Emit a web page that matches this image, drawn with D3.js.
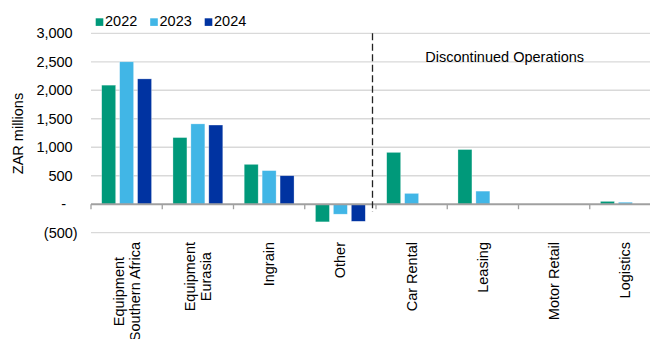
<!DOCTYPE html>
<html><head><meta charset="utf-8">
<script src="https://cdn.jsdelivr.net/npm/d3@7"></script>
<style>body{margin:0;background:#fff}svg{display:block}text{font-family:"Liberation Sans",Arial,sans-serif;fill:#000}</style>
</head><body><svg id="c" width="650" height="339"></svg>
<script>
const categories = [["Equipment","Southern Africa"],["Equipment","Eurasia"],["Ingrain"],["Other"],["Car Rental"],["Leasing"],["Motor Retail"],["Logistics"]];
const seriesNames = ["2022","2023","2024"];
const v2022 = [2090,1170,700,-310,910,960,0,50];
const v2023 = [2500,1410,590,-175,190,230,0,35];
const v2024 = [2200,1390,500,-300,null,null,null,null];
const yTicks = [-500,0,500,1000,1500,2000,2500,3000];
const dividerAfter = 4;
const sectionLabel = "Discontinued Operations";
const yTitle = "ZAR millions";
const colors = ["#00997a","#41b6e6","#0033a1"];

(function(){
const svg = d3.select("#c");
const pL = 91, pR = 661, pT = 33.3, pB = 232.7;
const fs = "14.5px";
const x = d3.scaleBand().domain(d3.range(categories.length)).range([pL,pR]).padding(0);
const y = d3.scaleLinear().domain([-500,3000]).range([pB, pT]);
const series = [v2022,v2023,v2024];
const inner = d3.scaleBand().domain(d3.range(3)).range([10.7, x.bandwidth()-10.7]).paddingInner(0.22);

// gridlines
svg.append("g").selectAll("line").data(yTicks.filter(d=>d!==0)).join("line")
  .attr("x1",pL).attr("x2",650).attr("y1",d=>y(d)).attr("y2",d=>y(d))
  .attr("stroke","#d9d9d9").attr("stroke-width",1.3);

// bars
series.forEach((s,si)=>{
  svg.append("g").selectAll("rect").data(s.map((v,i)=>({v,i})).filter(d=>d.v!==null && d.v!==0)).join("rect")
    .attr("x",d=>x(d.i)+inner(si)).attr("width",inner.bandwidth())
    .attr("y",d=>y(Math.max(0,d.v))).attr("height",d=>Math.abs(y(d.v)-y(0)))
    .attr("fill",colors[si]).attr("stroke","#fff").attr("stroke-opacity",0.5).attr("stroke-width",0.6);
});

// zero axis
const y0 = y(0);
svg.append("line").attr("x1",pL).attr("x2",650).attr("y1",y0).attr("y2",y0).attr("stroke","#a0a0a0").attr("stroke-width",2);
svg.append("g").selectAll("line").data(d3.range(categories.length)).join("line")
  .attr("x1",d=>x(d)).attr("x2",d=>x(d)).attr("y1",y0).attr("y2",y0+5).attr("stroke","#a0a0a0").attr("stroke-width",1.3);

// y tick labels
svg.append("g").selectAll("text").data(yTicks).join("text")
  .attr("x",d=> d<0 ? 77.7 : (d===0 ? 66 : 72.7)).attr("y",d=>y(d)).attr("dy","0.35em")
  .attr("text-anchor","end").style("font-size",fs)
  .text(d=> d===0 ? "-" : d<0 ? "(" + d3.format(",")(-d) + ")" : d3.format(",")(d));

// y title
svg.append("text").attr("transform","translate(18,133.5) rotate(-90)").attr("text-anchor","middle")
  .attr("dy","0.35em").style("font-size",fs).text(yTitle);

// category labels
categories.forEach((lines,i)=>{
  const cx = x(i)+x.bandwidth()/2;
  const g = svg.append("g");
  const lh = 16.3;
  const ts = lines.map((ln,j)=>{
    const off = (j - (lines.length-1)/2)*lh;
    return g.append("text").attr("text-anchor","middle").attr("dy","0.35em").style("font-size",fs).text(ln).datum(off);
  });
  const maxL = d3.max(ts, t=>t.node().getComputedTextLength());
  ts.forEach(t=>{
    const off = t.datum();
    t.attr("transform",`translate(${cx+off},${242+maxL/2}) rotate(-90)`);
  });
});

// divider
const dX = x(dividerAfter) - 3.5;
svg.append("line").attr("x1",dX).attr("x2",dX).attr("y1",pT).attr("y2",212)
  .attr("stroke","#222").attr("stroke-width",1.3).attr("stroke-dasharray","7,3.5");
svg.append("text").attr("x",504.7).attr("y",62.3).attr("text-anchor","middle").style("font-size",fs).text(sectionLabel);

// legend
const lg = svg.append("g");
seriesNames.forEach((n,i)=>{
  const lx = 95.7 + i*54.5;
  lg.append("rect").attr("x",lx).attr("y",18.3).attr("width",7.6).attr("height",7.6).attr("fill",colors[i]);
  lg.append("text").attr("x",lx+9.3).attr("y",26.3).style("font-size",fs).text(n);
});
})();
</script></body></html>
